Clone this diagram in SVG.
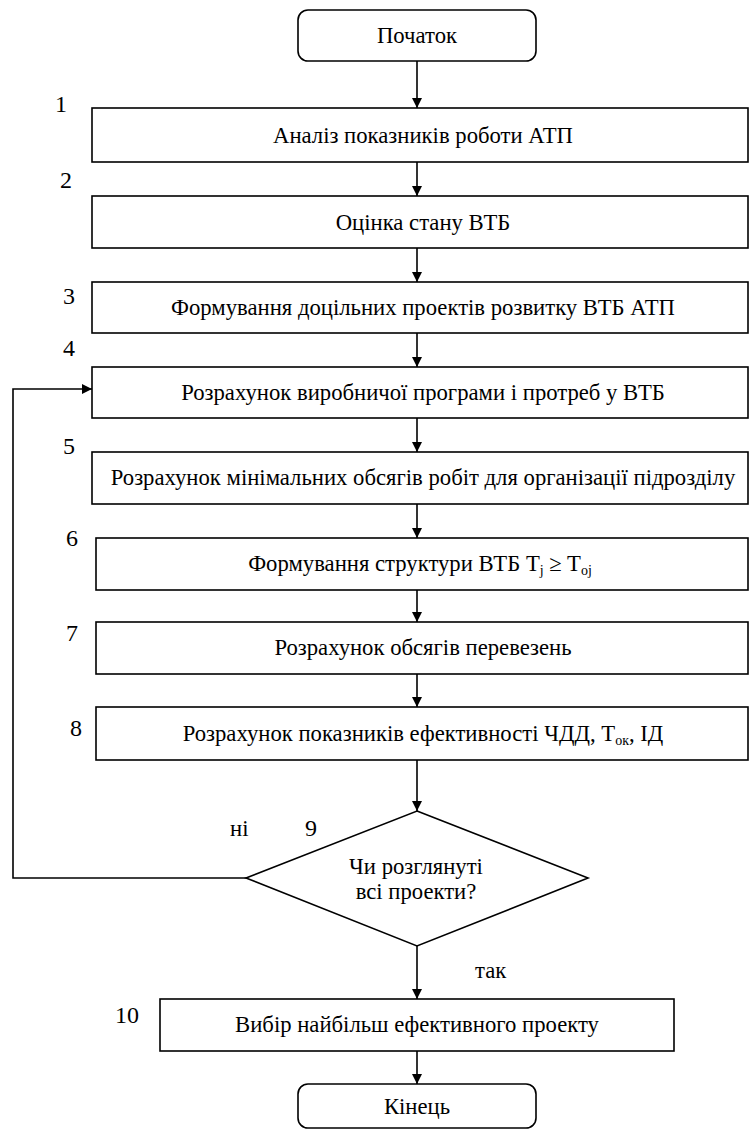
<svg xmlns="http://www.w3.org/2000/svg" width="750" height="1131" viewBox="0 0 750 1131" font-family="'Liberation Serif', 'DejaVu Serif', 'Times New Roman', serif">
<defs>
<marker id="ah" viewBox="0 0 10 10" refX="10" refY="5" markerWidth="10" markerHeight="10" markerUnits="userSpaceOnUse" orient="auto">
<path d="M0,0 L10,5 L0,10 Z" fill="#000"/>
</marker>
</defs>
<style>
.b{fill:#fff;stroke:#000;stroke-width:1.6}
.t{font-size:22.7px;fill:#000;text-anchor:middle}
.n{font-size:24px;fill:#000}
.l{font-size:22.7px;fill:#000}
.c{fill:none;stroke:#000;stroke-width:1.6;marker-end:url(#ah)}
.s{font-size:14px}
</style>
<rect width="750" height="1131" fill="#fff"/>
<g id="connectors">
<line class="c" x1="417" y1="61" x2="417" y2="108"/>
<line class="c" x1="417" y1="162" x2="417" y2="196"/>
<line class="c" x1="417" y1="248" x2="417" y2="282"/>
<line class="c" x1="417" y1="333" x2="417" y2="367"/>
<line class="c" x1="417" y1="418" x2="417" y2="452"/>
<line class="c" x1="417" y1="504" x2="417" y2="538"/>
<line class="c" x1="417" y1="590" x2="417" y2="622"/>
<line class="c" x1="417" y1="674" x2="417" y2="707"/>
<line class="c" x1="417" y1="760" x2="417" y2="811"/>
<line class="c" x1="417" y1="946" x2="417" y2="999"/>
<line class="c" x1="417" y1="1051" x2="417" y2="1084"/>
<polyline class="c" points="246,878 13,878 13,389 92,389"/>
<text class="l" x="230" y="836">ні</text>
<text class="l" x="475" y="978">так</text>
</g>
<g id="start">
<rect class="b" x="298" y="10" width="238" height="51" rx="10"/>
<text class="t" x="417" y="43">Початок</text>
</g>
<g id="n1">
<rect class="b" x="92" y="108" width="656" height="54"/>
<text class="n" x="55" y="112">1</text>
<text class="t" x="423" y="143">Аналіз показників роботи АТП</text>
</g>
<g id="n2">
<rect class="b" x="92" y="196" width="656" height="52"/>
<text class="n" x="60" y="188">2</text>
<text class="t" x="423" y="230">Оцінка стану ВТБ</text>
</g>
<g id="n3">
<rect class="b" x="92" y="282" width="656" height="51"/>
<text class="n" x="63" y="304">3</text>
<text class="t" x="423" y="315">Формування доцільних проектів розвитку ВТБ АТП</text>
</g>
<g id="n4">
<rect class="b" x="92" y="367" width="656" height="51"/>
<text class="n" x="63" y="356">4</text>
<text class="t" x="423" y="400">Розрахунок виробничої програми і протреб у ВТБ</text>
</g>
<g id="n5">
<rect class="b" x="92" y="452" width="656" height="52"/>
<text class="n" x="63" y="454">5</text>
<text class="t" x="423" y="485">Розрахунок мінімальних обсягів робіт для організації підрозділу</text>
</g>
<g id="n6">
<rect class="b" x="96" y="538" width="652" height="52"/>
<text class="n" x="66" y="546">6</text>
<text class="t" x="420" y="571">Формування структури ВТБ T<tspan class="s" dy="4">j</tspan><tspan dy="-4"> ≥ T</tspan><tspan class="s" dy="4">oj</tspan></text>
</g>
<g id="n7">
<rect class="b" x="96" y="622" width="652" height="52"/>
<text class="n" x="66" y="641">7</text>
<text class="t" x="423" y="655">Розрахунок обсягів перевезень</text>
</g>
<g id="n8">
<rect class="b" x="96" y="707" width="652" height="53"/>
<text class="n" x="70" y="736">8</text>
<text class="t" x="423" y="741">Розрахунок показників ефективності ЧДД, T<tspan class="s" dy="4">ок</tspan><tspan dy="-4">, ІД</tspan></text>
</g>
<g id="n9">
<polygon class="b" points="417,811 588,878 417,946 246,878"/>
<text class="n" x="305" y="836">9</text>
<text class="t" x="416" y="874">Чи розглянуті</text>
<text class="t" x="416" y="899">всі проекти?</text>
</g>
<g id="n10">
<rect class="b" x="160" y="999" width="514" height="52"/>
<text class="n" x="115" y="1023">10</text>
<text class="t" x="417" y="1032">Вибір найбільш ефективного проекту</text>
</g>
<g id="end">
<rect class="b" x="298" y="1084" width="238" height="44" rx="10"/>
<text class="t" x="417" y="1114">Кінець</text>
</g>
</svg>
